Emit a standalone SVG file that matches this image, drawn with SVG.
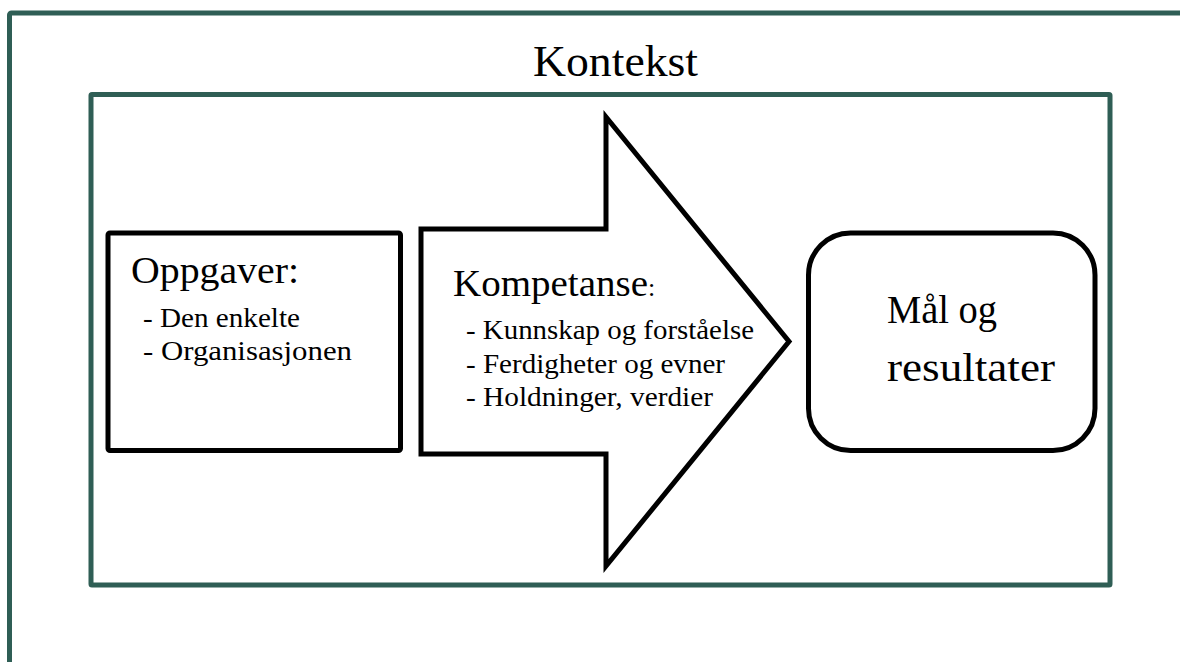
<svg xmlns="http://www.w3.org/2000/svg" width="1180" height="662" viewBox="0 0 1180 662">
  <style>
    .frame { fill: none; stroke: #2f5e55; stroke-width: 5; stroke-linejoin: round; }
    .node { fill: #ffffff; stroke: #000000; stroke-width: 5; stroke-linejoin: miter; }
    text { font-family: "Liberation Serif", "Times New Roman", serif; fill: #000000; }
    .title { font-size: 38px; }
    .item { font-size: 27px; }
  </style>
  <rect x="0" y="0" width="1180" height="662" fill="#ffffff"/>
  <g id="context">
    <rect class="frame" x="9.5" y="13" width="1200" height="700" rx="2"/>
    <rect class="frame" x="91" y="94.5" width="1019" height="490.5" rx="1"/>
    <text x="533" y="76" font-size="45" textLength="165" lengthAdjust="spacingAndGlyphs">Kontekst</text>
  </g>
  <g id="connectors"></g>
  <g id="oppgaver">
    <rect class="node" x="108" y="233" width="292.5" height="217.5" rx="2"/>
    <text class="title" x="131" y="283" textLength="168" lengthAdjust="spacingAndGlyphs">Oppgaver:</text>
    <text class="item" x="143" y="327" textLength="157" lengthAdjust="spacingAndGlyphs">- Den enkelte</text>
    <text class="item" x="143" y="360" textLength="209" lengthAdjust="spacingAndGlyphs">- Organisasjonen</text>
  </g>
  <g id="kompetanse">
    <polygon class="node" points="421,229 606,229 606,117 789,341.5 606,566 606,454 421,454"/>
    <text x="453" y="296"><tspan class="title" textLength="195" lengthAdjust="spacingAndGlyphs">Kompetanse</tspan><tspan font-size="26">:</tspan></text>
    <text class="item" x="466" y="339" textLength="288" lengthAdjust="spacingAndGlyphs">- Kunnskap og forståelse</text>
    <text class="item" x="466" y="373" textLength="259" lengthAdjust="spacingAndGlyphs">- Ferdigheter og evner</text>
    <text class="item" x="466" y="406" textLength="247" lengthAdjust="spacingAndGlyphs">- Holdninger, verdier</text>
  </g>
  <g id="maal">
    <rect class="node" x="808.5" y="233" width="286.5" height="217.5" rx="42" ry="42" stroke-width="4.5"/>
    <text font-size="39" x="887" y="323" textLength="110" lengthAdjust="spacingAndGlyphs">Mål og</text>
    <text font-size="39" x="887" y="381" textLength="168" lengthAdjust="spacingAndGlyphs">resultater</text>
  </g>
</svg>
